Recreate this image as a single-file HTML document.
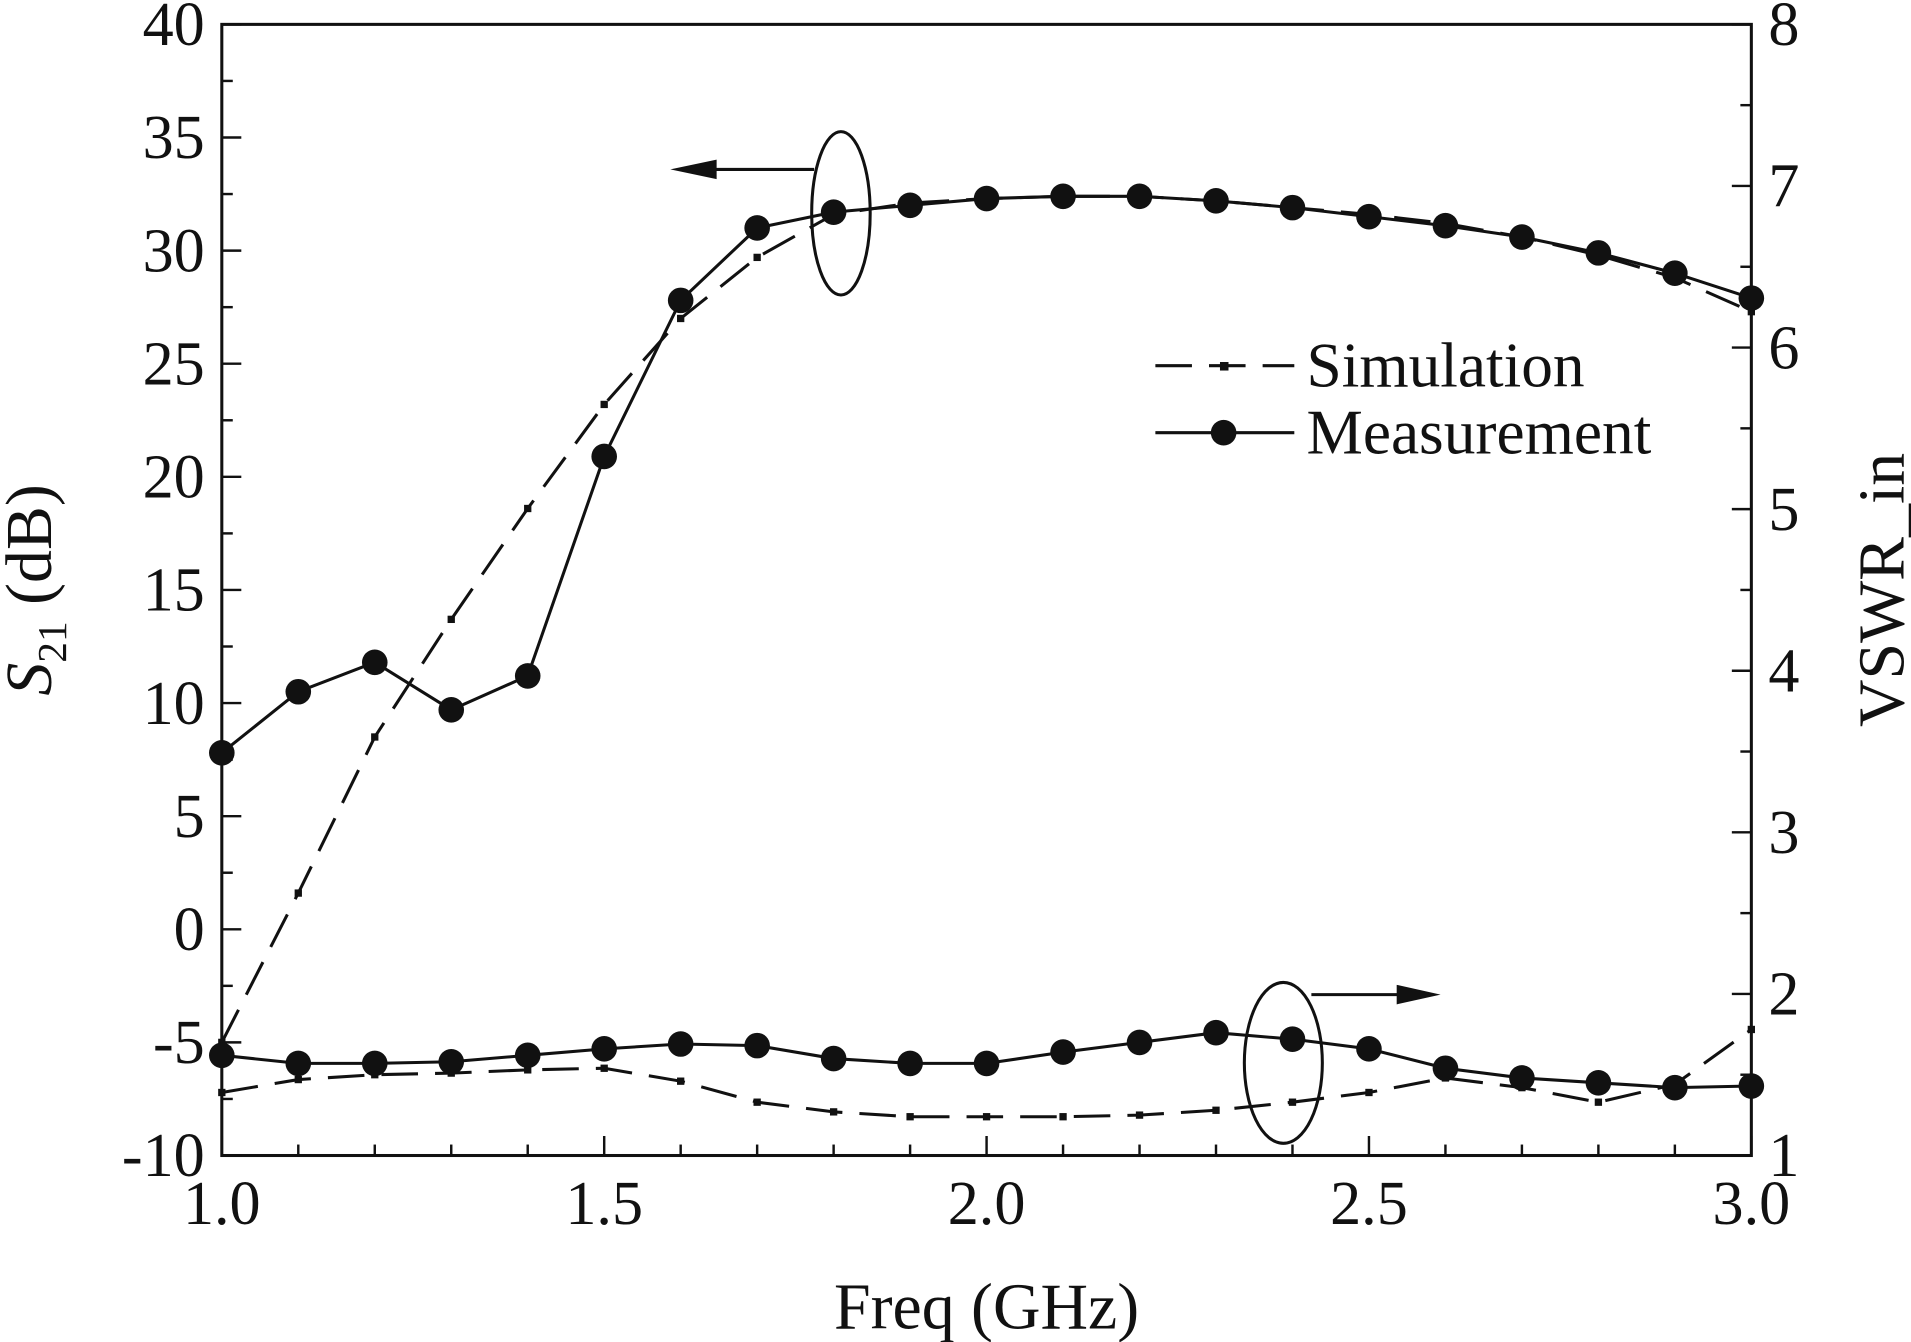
<!DOCTYPE html>
<html><head><meta charset="utf-8"><style>
html,body{margin:0;padding:0;background:#fff}
svg{display:block}
text{font-family:"Liberation Serif",serif;fill:#111}
</style></head><body>
<svg id="chart" width="1911" height="1342" viewBox="0 0 1568 1101" preserveAspectRatio="none" xmlns="http://www.w3.org/2000/svg">
<g id="axes"></g>
<g id="series"></g>
</svg>
<script>
const freqs=[1.0,1.1,1.2,1.3,1.4,1.5,1.6,1.7,1.8,1.9,2.0,2.1,2.2,2.3,2.4,2.5,2.6,2.7,2.8,2.9,3.0];
const s21Meas=[7.8,10.5,11.8,9.7,11.2,20.9,27.8,31.0,31.7,32.0,32.3,32.4,32.4,32.2,31.9,31.5,31.1,30.6,29.9,29.0,27.9];
const s21Sim=[-5,1.6,8.5,13.7,18.6,23.2,27,29.7,31.6,32.1,32.3,32.4,32.4,32.2,31.9,31.6,31.2,30.6,29.8,28.8,27.3];
const vswrMeas=[1.62,1.57,1.57,1.58,1.62,1.66,1.69,1.68,1.60,1.57,1.57,1.64,1.70,1.76,1.72,1.66,1.54,1.48,1.45,1.42,1.43];
const vswrSim=[1.39,1.47,1.50,1.51,1.53,1.54,1.46,1.33,1.27,1.24,1.24,1.24,1.25,1.28,1.33,1.39,1.48,1.42,1.33,1.44,1.78];
const xTicks=["1.0","1.5","2.0","2.5","3.0"];
const yLeftTicks=["-10","-5","0","5","10","15","20","25","30","35","40"];
const yRightTicks=["1","2","3","4","5","6","7","8"];

const L=182,R=1437,T=20,B=948;
const X=v=>L+(v-1)/(3-1)*(R-L);
const YL=v=>B-(v+10)/50*(B-T);
const YR=v=>B-(v-1)/7*(B-T);
const NS="http://www.w3.org/2000/svg";
function mk(parent,tag,attrs,txt){const e=document.createElementNS(NS,tag);for(const k in attrs)e.setAttribute(k,attrs[k]);if(txt!==undefined)e.textContent=txt;parent.appendChild(e);return e;}
const ax=document.getElementById('axes'),sr=document.getElementById('series');

let frame=mk(ax,'rect',{x:L,y:T,width:R-L,height:B-T,fill:'none',stroke:'#111','stroke-width':2.5});


for(let i=0;i<=20;i++){const v=1+i*0.1,x=X(v),len=i%5==0?16:9;
 let t=mk(ax,'line',{x1:x,y1:B,x2:x,y2:B-len,stroke:'#111','stroke-width':2});
 
 }
xTicks.forEach(s=>{let t=mk(ax,'text',{x:X(parseFloat(s)),y:B+56,'font-size':51,'text-anchor':'middle'},s);
 
 });
for(let i=0;i<=20;i++){const v=-10+i*2.5,y=YL(v),len=i%2==0?16:9;
 let t=mk(ax,'line',{x1:L,y1:y,x2:L+len,y2:y,stroke:'#111','stroke-width':2});
 
 }
yLeftTicks.forEach(s=>{let t=mk(ax,'text',{x:L-14,y:YL(parseFloat(s))+17,'font-size':51,'text-anchor':'end'},s);
 
 });
for(let i=0;i<=14;i++){const v=1+i*0.5,y=YR(v),len=i%2==0?16:9;
 let t=mk(ax,'line',{x1:R,y1:y,x2:R-len,y2:y,stroke:'#111','stroke-width':2});
 
 }
yRightTicks.forEach(s=>{let t=mk(ax,'text',{x:R+14,y:YR(parseFloat(s))+17,'font-size':51,'text-anchor':'start'},s);
 
 });
let xt=mk(ax,'text',{x:(L+R)/2,y:1090,'font-size':54,'text-anchor':'middle'},'Freq (GHz)');


let yt=mk(ax,'text',{transform:'translate(42,484) rotate(-90)','font-size':54,'text-anchor':'middle'});


mk(yt,'tspan',{'font-style':'italic'},'S');mk(yt,'tspan',{'font-size':34,dy:12},'21');mk(yt,'tspan',{dy:-12},' (dB)');
let yr=mk(ax,'text',{transform:'translate(1562,484) rotate(-90)','font-size':54,'text-anchor':'middle'},'VSWR_in');



function line(vals,Yf,name,dashed){
 const pts=vals.map((v,i)=>X(freqs[i])+','+Yf(v)).join(' ');
 let p=mk(sr,'polyline',{points:pts,fill:'none',stroke:'#111','stroke-width':2.5,'stroke-dasharray':dashed?'30,14':'none'});
 
 
 vals.forEach((v,i)=>{let m;
  if(dashed){m=mk(sr,'rect',{x:X(freqs[i])-3,y:Yf(v)-3,width:6,height:6,fill:'#111'});}
  else{m=mk(sr,'circle',{cx:X(freqs[i]),cy:Yf(v),r:10.5,fill:'#111'});}
  
  });
}
line(s21Sim,YL,'s21-simulation',true);
line(vswrSim,YR,'vswr-simulation',true);
line(s21Meas,YL,'s21-measurement',false);
line(vswrMeas,YR,'vswr-measurement',false);

let e1=mk(sr,'ellipse',{cx:690,cy:175,rx:24,ry:67,fill:'none',stroke:'#111','stroke-width':2.5});


let a1=mk(sr,'line',{x1:668,y1:139,x2:585,y2:139,stroke:'#111','stroke-width':2.5});


mk(sr,'polygon',{points:'550,139 588,131 588,147',fill:'#111'});
let e2=mk(sr,'ellipse',{cx:1053,cy:872,rx:32,ry:66,fill:'none',stroke:'#111','stroke-width':2.5});


let a2=mk(sr,'line',{x1:1076,y1:816,x2:1150,y2:816,stroke:'#111','stroke-width':2.5});


mk(sr,'polygon',{points:'1182,816 1146,808 1146,824',fill:'#111'});

let lg=mk(sr,'g',{});


let l1=mk(lg,'line',{x1:948,y1:300,x2:1062,y2:300,stroke:'#111','stroke-width':2.5,'stroke-dasharray':'30,14'});


mk(lg,'rect',{x:1001,y:297,width:7,height:7,fill:'#111'});
let t1=mk(lg,'text',{x:1072,y:317,'font-size':52},'Simulation');


let l2=mk(lg,'line',{x1:948,y1:355,x2:1062,y2:355,stroke:'#111','stroke-width':2.5});


mk(lg,'circle',{cx:1004,cy:355,r:10.5,fill:'#111'});
let t2=mk(lg,'text',{x:1072,y:372,'font-size':52},'Measurement');


</script>
</body></html>
